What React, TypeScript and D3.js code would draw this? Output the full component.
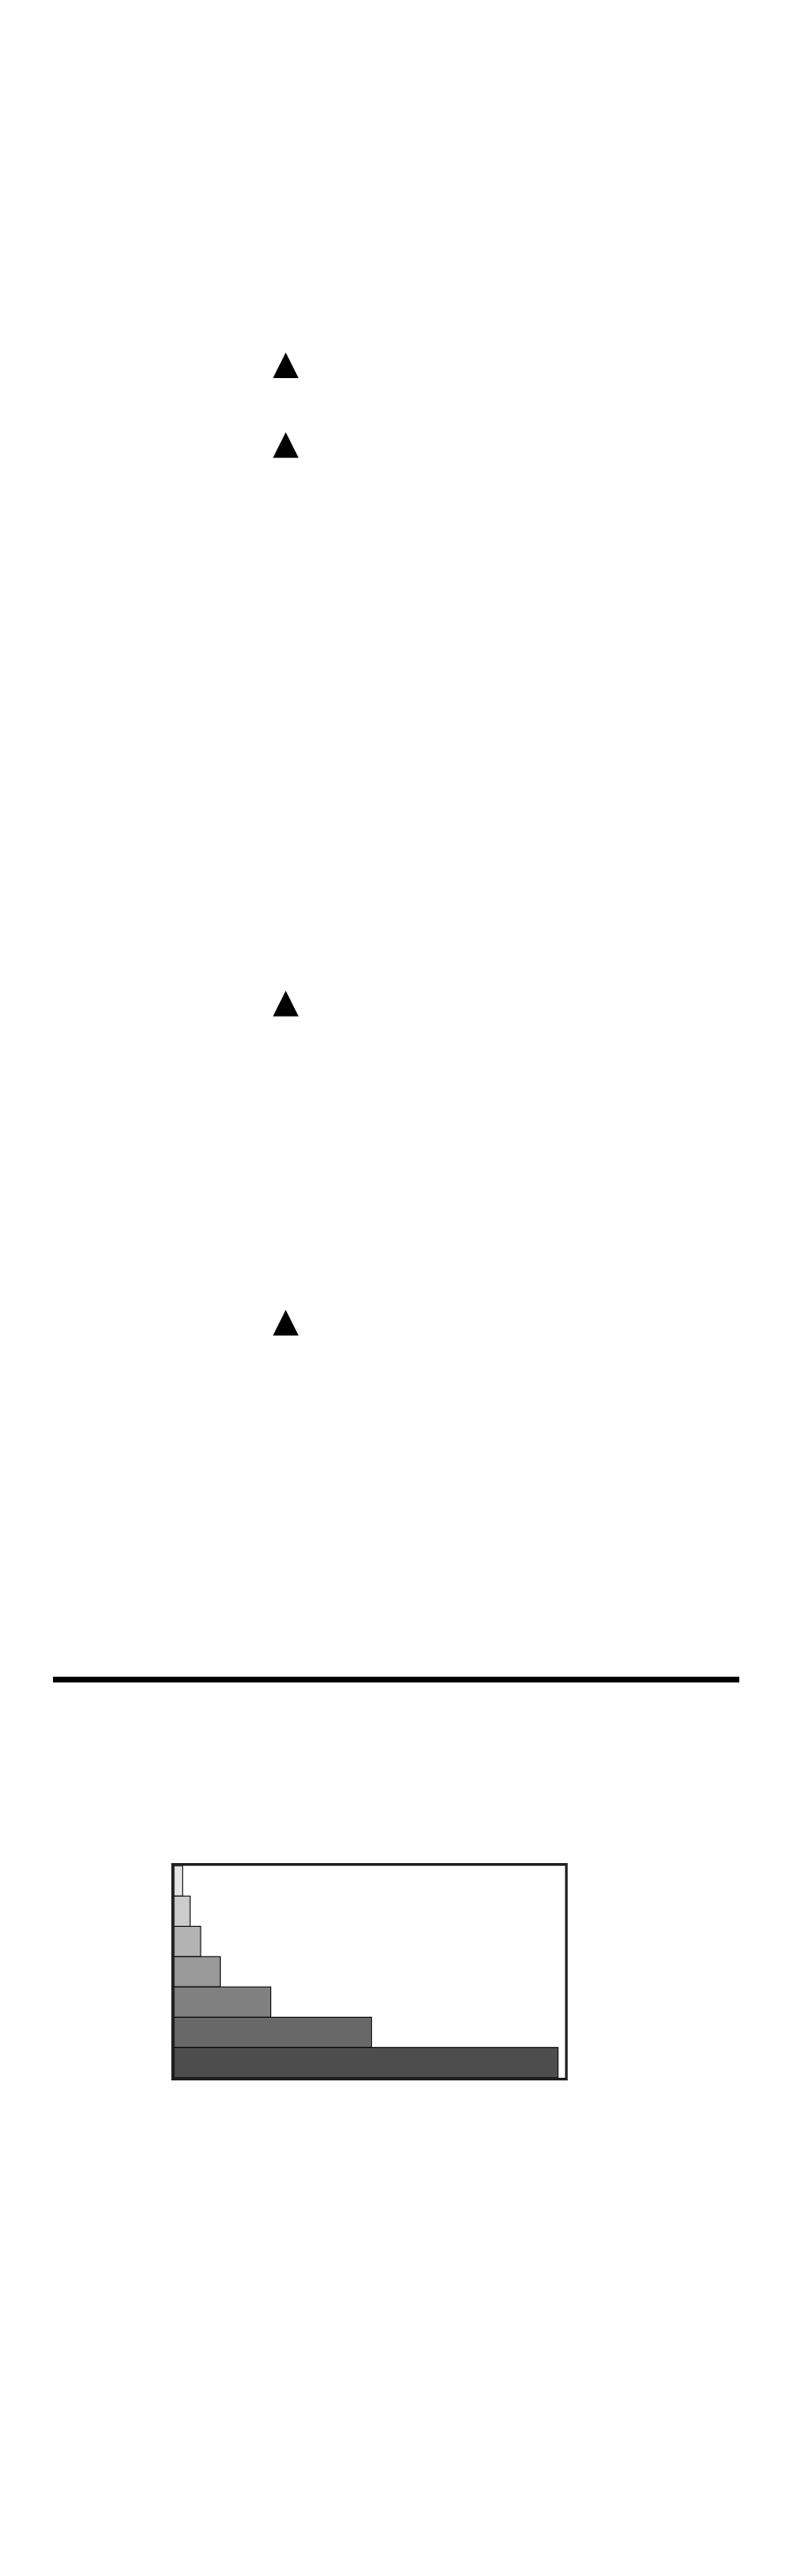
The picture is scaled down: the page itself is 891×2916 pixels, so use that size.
import * as d3 from "d3";
import { useEffect, useRef } from "react";

// marker rows (in steps of one unit) and the column they sit in
const markerSteps = [0, 1, 8, 12];
const markerColumn = [0.5, 0.5, 0.5, 0.5];

// horizontal bars, top to bottom
const barCategories = ["a", "b", "c", "d", "e", "f", "g"];
const barValues = [2.2, 4.1, 6.8, 11.8, 24.7, 50.4, 98];
const barFills = ["#e6e6e6", "#cccccc", "#b3b3b3", "#999999", "#808080", "#686868", "#4d4d4d"];

const W = 891;
const H = 2916;

const App = () => {
	const svgRef = useRef<SVGSVGElement>(null);

	useEffect(() => {
		if (!svgRef.current) return;
		const svg = d3.select(svgRef.current);
		svg.selectAll("*").remove();

		// --- triangle markers ---
		const mx = d3.scaleLinear().domain([0, 1]).range([275, 372]);
		const my = d3.scaleLinear().domain([0, 12]).range([418.3, 1502]);
		const tw = 29;
		const th = 29;
		const tri = `M0,${(-th * 2) / 3}L${tw / 2},${th / 3}L${-tw / 2},${th / 3}Z`;

		svg
			.append("g")
			.selectAll("path")
			.data(markerSteps)
			.enter()
			.append("path")
			.attr("d", tri)
			.attr("transform", (d, i) => `translate(${mx(markerColumn[i])},${my(d)})`)
			.attr("fill", "#000");

		// --- separator rule ---
		svg
			.append("line")
			.attr("x1", 60)
			.attr("x2", 837)
			.attr("y1", 1901.3)
			.attr("y2", 1901.3)
			.attr("stroke", "#000")
			.attr("stroke-width", 6.4);

		// --- bar chart ---
		const left = 197;
		const right = 640.7;
		const top = 2112;
		const bottom = 2352;

		const x = d3.scaleLinear().domain([0, 100]).range([left, right]);
		const y = d3.scaleBand().domain(barCategories).range([top, bottom]).padding(0);

		const g = svg.append("g");

		g.selectAll("rect.bar")
			.data(barValues)
			.enter()
			.append("rect")
			.attr("class", "bar")
			.attr("x", x(0))
			.attr("y", (d, i) => y(barCategories[i]) as number)
			.attr("width", (d) => x(d) - x(0))
			.attr("height", y.bandwidth())
			.attr("fill", (d, i) => barFills[i])
			.attr("stroke", "#000")
			.attr("stroke-width", 1);

		// frame
		g.append("rect")
			.attr("x", left - 1.5)
			.attr("y", top - 1.5)
			.attr("width", right - left + 3 - 1)
			.attr("height", bottom - top + 3)
			.attr("fill", "none")
			.attr("stroke", "#231f20")
			.attr("stroke-width", 3);
	}, []);

	return (
		<svg
			ref={svgRef}
			width={W}
			height={H}
			style={{ position: "absolute", left: 0, top: 0, display: "block", background: "#fff" }}
		></svg>
	);
};

export default App;
